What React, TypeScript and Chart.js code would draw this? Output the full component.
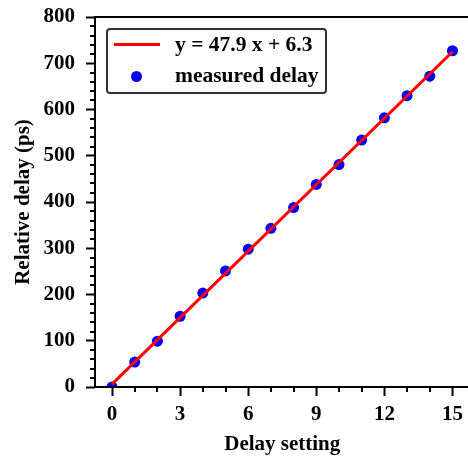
import React, { useEffect, useRef } from "react";
import { Chart, registerables } from "chart.js";

Chart.register(...registerables);

const delaySettings = [0, 1, 2, 3, 4, 5, 6, 7, 8, 9, 10, 11, 12, 13, 14, 15];
const measuredDelay = [0, 54, 99, 153, 203, 251, 298, 343, 388, 438, 481, 534, 582, 630, 672, 727];
const fitX = [0, 15];
const fitY = [6.3, 724.8];
const fitLabel = "y = 47.9 x + 6.3";
const pointsLabel = "measured delay";
const xMajorTicks = [0, 3, 6, 9, 12, 15];
const xMinorTicks = [1, 2, 4, 5, 7, 8, 10, 11, 13, 14];
const yMajorTicks = [0, 100, 200, 300, 400, 500, 600, 700, 800];
const yMinorTicks = [20, 40, 60, 80, 120, 140, 160, 180, 220, 240, 260, 280, 320, 340, 360, 380, 420, 440, 460, 480, 520, 540, 560, 580, 620, 640, 660, 680, 720, 740, 760, 780];

const FONT = "'Liberation Serif', 'Times New Roman', serif";

const framePlugin = {
  id: "frameAndMinor",
  afterDraw(chart: any) {
    const { ctx, chartArea } = chart;
    const xs = chart.scales.x;
    const ys = chart.scales.y;
    ctx.save();
    ctx.strokeStyle = "#000";
    ctx.lineWidth = 2;
    ctx.beginPath();
    ctx.moveTo(chartArea.right + 10, chartArea.top);
    ctx.lineTo(chartArea.left, chartArea.top);
    ctx.lineTo(chartArea.left, chartArea.bottom);
    ctx.lineTo(chartArea.right + 10, chartArea.bottom);
    for (const v of xMinorTicks) {
      const px = Math.round(xs.getPixelForValue(v));
      ctx.moveTo(px, chartArea.bottom);
      ctx.lineTo(px, chartArea.bottom + 5);
    }
    for (const v of yMinorTicks) {
      const py = Math.round(ys.getPixelForValue(v));
      ctx.moveTo(chartArea.left, py);
      ctx.lineTo(chartArea.left - 5, py);
    }
    ctx.stroke();
    ctx.restore();
  },
};

export default function App() {
  const ref = useRef<HTMLCanvasElement | null>(null);
  useEffect(() => {
    document.body.style.margin = "0";
    const chart = new Chart(ref.current as HTMLCanvasElement, {
      type: "scatter",
      data: {
        datasets: [
          {
            type: "line",
            label: fitLabel,
            data: fitX.map((x, i) => ({ x, y: fitY[i] })),
            borderColor: "#ff0000",
            backgroundColor: "#ff0000",
            borderWidth: 3,
            pointRadius: 0,
            order: 0,
          } as any,
          {
            type: "scatter",
            label: pointsLabel,
            data: delaySettings.map((x, i) => ({ x, y: measuredDelay[i] })),
            backgroundColor: "#0000ff",
            borderColor: "#0000ff",
            pointRadius: 5.5,
            borderWidth: 0,
            order: 1,
          },
        ],
      },
      options: {
        animation: false,
        responsive: false,
        maintainAspectRatio: false,
        layout: { padding: { top: 17, left: 0, right: 3, bottom: 0 } },
        plugins: { legend: { display: false }, tooltip: { enabled: false } },
        scales: {
          x: {
            type: "linear",
            min: -0.75,
            max: 15.75,
            afterBuildTicks: (s: any) => {
              s.ticks = xMajorTicks.map((v) => ({ value: v }));
            },
            afterFit: (s: any) => {
              s.height = 70;
              s.paddingLeft = 0;
              s.paddingRight = 0;
            },
            grid: { drawOnChartArea: false, tickLength: 9, tickWidth: 2, tickColor: "#000" },
            border: { display: false },
            ticks: { color: "#000", padding: 6, maxRotation: 0, font: { family: FONT, size: 21, weight: "bold" } },
            title: {
              display: true,
              text: "Delay setting",
              color: "#000",
              padding: { top: 0, bottom: 0 },
              font: { family: FONT, size: 21, weight: "bold" },
            },
          },
          y: {
            type: "linear",
            min: 0,
            max: 800,
            afterBuildTicks: (s: any) => {
              s.ticks = yMajorTicks.map((v) => ({ value: v }));
            },
            afterFit: (s: any) => {
              s.width = 95;
              s.paddingTop = 0;
              s.paddingBottom = 0;
            },
            grid: { drawOnChartArea: false, tickLength: 9, tickWidth: 2, tickColor: "#000" },
            border: { display: false },
            ticks: { color: "#000", padding: 11, font: { family: FONT, size: 21, weight: "bold" } },
            title: {
              display: true,
              text: "Relative delay (ps)",
              color: "#000",
              padding: { top: 11, bottom: 0 },
              font: { family: FONT, size: 21, weight: "bold" },
            },
          },
        },
      },
      plugins: [framePlugin],
    });
    return () => chart.destroy();
  }, []);

  return (
    <div style={{ position: "absolute", left: 0, top: 0, width: 468, height: 457, overflow: "hidden", background: "#fff" }}>
      <canvas ref={ref} width={475} height={457} style={{ display: "block" }} />
      <div
        style={{
          position: "absolute",
          left: 106,
          top: 28,
          width: 221,
          height: 66,
          border: "2px solid #333",
          borderRadius: 4,
          fontFamily: FONT,
          fontWeight: "bold",
          fontSize: 21.5,
          color: "#000",
          boxSizing: "border-box",
        }}
      >
        <div style={{ position: "absolute", left: 6, top: 13, width: 46, height: 3, background: "#ff0000" }} />
        <div style={{ position: "absolute", left: 67, top: 1, lineHeight: "26px", whiteSpace: "nowrap" }}>{fitLabel}</div>
        <div style={{ position: "absolute", left: 23, top: 41, width: 11, height: 11, borderRadius: "50%", background: "#0000ff" }} />
        <div style={{ position: "absolute", left: 67, top: 32, lineHeight: "26px", whiteSpace: "nowrap" }}>{pointsLabel}</div>
      </div>
    </div>
  );
}
